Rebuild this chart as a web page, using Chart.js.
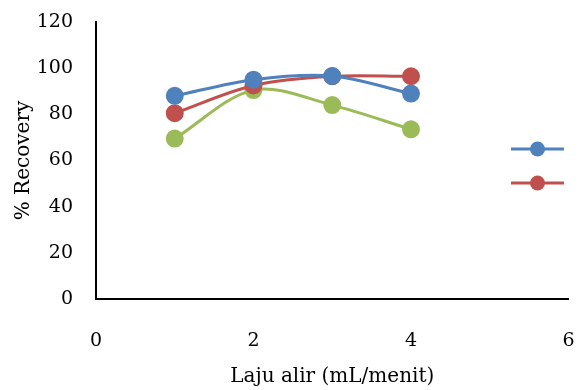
<!DOCTYPE html>
<html>
<head>
<meta charset="utf-8">
<script src="https://cdn.jsdelivr.net/npm/chart.js@4"></script>
<style>
  html, body { margin: 0; padding: 0; background: #fff; }
  #wrap { width: 579px; height: 390px; }
</style>
</head>
<body>
<div id="wrap"><canvas></canvas></div>
<script>
const lajuAlir = [1, 2, 3, 4];
const seriBiru = [88, 95, 96.6, 89];
const seriMerah = [80.5, 92.5, 96.5, 96.5];
const seriHijau = [69.5, 90.5, 84, 73.5];
const yTicks = [0, 20, 40, 60, 80, 100, 120];
const xTicks = [0, 2, 4, 6];

const fontFam = "'DejaVu Serif', 'Liberation Serif', serif";

function titik(ys) {
  return lajuAlir.map((x, i) => ({ x: x, y: ys[i] }));
}

function seri(label, ys, warna) {
  return {
    label: label,
    data: titik(ys),
    borderColor: warna,
    backgroundColor: warna,
    pointBackgroundColor: warna,
    pointBorderColor: warna,
    borderWidth: 3,
    pointRadius: 7.5,
    tension: 0.33,
    showLine: true
  };
}

// legend ala Excel: garis + bulatan, tanpa teks, hanya dua seri pertama
const legendaKanan = {
  id: "legendaKanan",
  afterDatasetsDraw(chart) {
    const ctx = chart.ctx;
    const barisY = [149, 183];
    chart.data.datasets.slice(0, 2).forEach((ds, i) => {
      const y = barisY[i];
      ctx.save();
      ctx.strokeStyle = ds.borderColor;
      ctx.lineWidth = 3;
      ctx.beginPath();
      ctx.moveTo(511, y);
      ctx.lineTo(564, y);
      ctx.stroke();
      ctx.fillStyle = ds.borderColor;
      ctx.beginPath();
      ctx.arc(537.5, y, 7.5, 0, Math.PI * 2);
      ctx.fill();
      ctx.restore();
    });
  }
};

new Chart(document.querySelector("canvas"), {
  type: "scatter",
  data: {
    datasets: [
      seri("Seri 1", seriBiru, "#4F81BD"),
      seri("Seri 2", seriMerah, "#C0504D"),
      seri("Seri 3", seriHijau, "#9BBB59")
    ]
  },
  options: {
    responsive: true,
    maintainAspectRatio: false,
    animation: false,
    layout: { padding: { top: 22, right: 9, left: 0, bottom: 0 } },
    plugins: {
      legend: { display: false },
      tooltip: { enabled: false }
    },
    scales: {
      x: {
        type: "linear",
        min: 0,
        max: 6,
        afterBuildTicks: s => { s.ticks = xTicks.map(v => ({ value: v })); },
        afterFit: s => { s.height = 91; s.paddingLeft = 0; s.paddingRight = 0; },
        grid: { display: false, drawTicks: false },
        border: { color: "#000", width: 2 },
        ticks: {
          color: "#000",
          padding: 31,
          font: { family: fontFam, size: 19 }
        },
        title: {
          display: true,
          text: "Laju alir (mL/menit)",
          color: "#000",
          font: { family: fontFam, size: 20 },
          padding: { top: 0, bottom: 1 }
        }
      },
      y: {
        min: 0,
        max: 120,
        afterBuildTicks: s => { s.ticks = yTicks.map(v => ({ value: v })); },
        afterFit: s => { s.width = 96; s.paddingTop = 0; s.paddingBottom = 0; },
        grid: { display: false, drawTicks: false },
        border: { color: "#000", width: 2 },
        ticks: {
          color: "#000",
          padding: 23,
          font: { family: fontFam, size: 19 }
        },
        title: {
          display: true,
          text: "% Recovery",
          color: "#000",
          font: { family: fontFam, size: 20 },
          padding: { top: 12, bottom: 0 }
        }
      }
    }
  },
  plugins: [legendaKanan]
});
</script>
</body>
</html>
